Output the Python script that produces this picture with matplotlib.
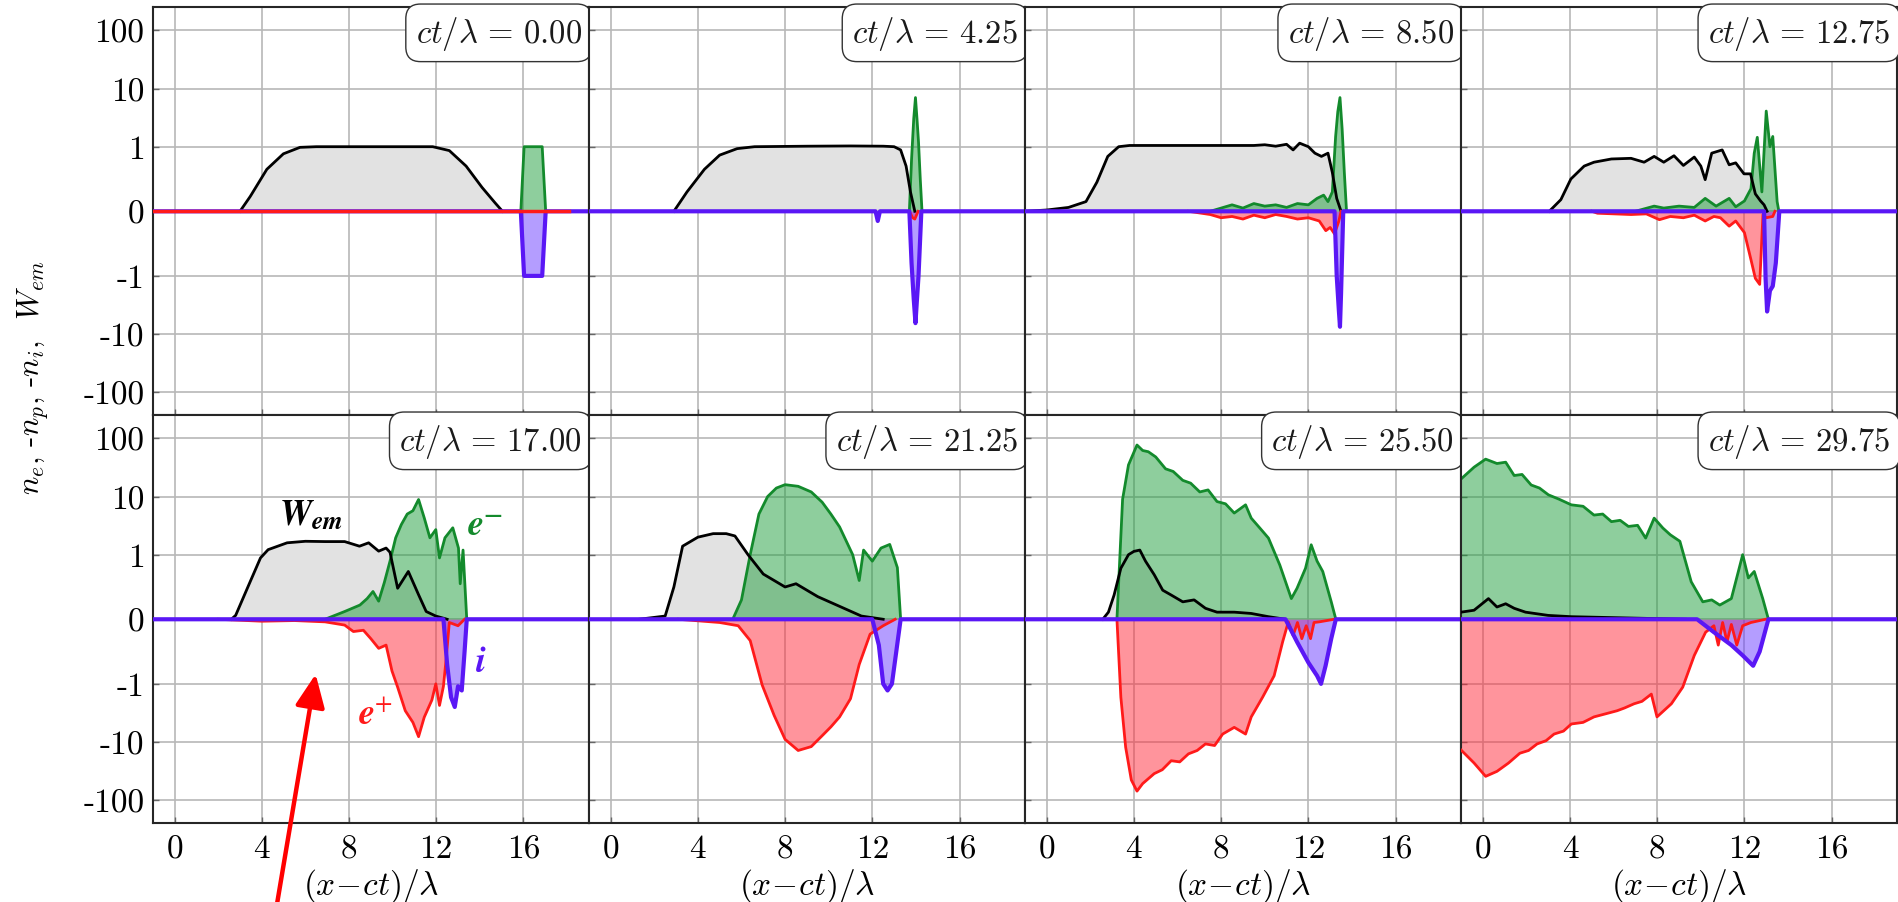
import numpy as np
import matplotlib
matplotlib.use('Agg')
import matplotlib.pyplot as plt

plt.rcParams['font.family'] = 'cmr10'
plt.rcParams['mathtext.fontset'] = 'cm'
plt.rcParams['axes.unicode_minus'] = False

# ----------------------------------- data ---------------------------------------------------------------
TIMES = ['0.00', '4.25', '8.50', '12.75', '17.00', '21.25', '25.50', '29.75']

# W_em (black)
W_X = [
    [3.0, 3.47, 4.23, 4.99, 5.75, 6.5, 11.84, 12.6, 13.37, 14.1, 14.7, 15.04],
    [2.9, 3.5, 4.3, 5.0, 5.8, 6.6, 9.0, 11.0, 12.5, 13.0, 13.3, 13.55, 13.75, 13.95],
    [-1, 0, 1.0, 1.8, 2.3, 2.8, 3.3, 3.8, 6.0, 9.5, 10.0, 10.5, 11.0, 11.3, 11.6, 12.0, 12.3, 12.6, 12.9, 13.1, 13.3, 13.5],
    [3.05, 3.58, 4.04, 4.65, 5.1, 5.9, 6.8, 7.4, 7.86, 8.3, 8.77, 9.2, 9.7, 10.0, 10.2, 10.5, 10.98, 11.3, 11.6, 11.98,
     12.28, 12.5, 12.74, 12.9, 13.04],
    [2.6, 2.8, 3.4, 3.94, 4.29, 5.16, 6.0, 6.9, 7.8, 8.48, 8.9, 9.36, 9.7, 9.88, 10.23, 10.72, 11.19, 11.54, 11.98, 12.5],
    [1.3, 2.5, 2.9, 3.3, 4.0, 4.7, 5.3, 5.7, 6.3, 7.0, 8.0, 8.5, 9.5, 10.5, 11.5, 12.5],
    [2.57, 2.83, 3.09, 3.4, 3.75, 4.0, 4.27, 4.53, 4.93, 5.32, 5.71, 6.24, 6.76, 7.28, 7.81, 8.6, 9.38, 10.17, 10.95],
    [-1, -0.4, 0.26, 0.65, 1.05, 1.44, 1.96, 3.0, 4.06, 6.7, 9.3],
]
W_Y = [
    [0, 0.23, 0.65, 0.89, 0.99, 1.0, 1.0, 0.94, 0.7, 0.37, 0.13, 0],
    [0, 0.3, 0.65, 0.87, 0.97, 1.0, 1.02, 1.03, 1.02, 1.0, 0.95, 0.7, 0.3, 0],
    [0, 0.02, 0.06, 0.15, 0.45, 0.85, 1.0, 1.05, 1.05, 1.05, 1.08, 1.02, 1.1, 0.95, 1.15, 1.0, 0.9, 0.85, 0.9, 0.6, 0.2, 0],
    [0, 0.18, 0.5, 0.7, 0.76, 0.81, 0.82, 0.76, 0.85, 0.76, 0.86, 0.71, 0.84, 0.7, 0.49, 0.9, 0.95, 0.72, 0.75, 0.58,
     0.58, 0.27, 0.16, 0.1, 0],
    [0, 0.06, 0.53, 0.95, 1.22, 1.6, 1.7, 1.68, 1.68, 1.4, 1.6, 1.15, 1.3, 1.1, 0.48, 0.74, 0.38, 0.12, 0.05, 0],
    [0, 0.05, 0.5, 1.4, 2.0, 2.3, 2.3, 2.1, 1.0, 0.7, 0.5, 0.55, 0.35, 0.2, 0.05, 0],
    [0, 0.11, 0.375, 0.79, 1.0, 1.14, 1.2, 0.9, 0.69, 0.45, 0.375, 0.27, 0.3, 0.17, 0.11, 0.11, 0.09, 0.04, 0],
    [0.11, 0.14, 0.32, 0.19, 0.24, 0.17, 0.11, 0.06, 0.04, 0.02, 0],
]

# n_e (green)
NE_X = [
    [15.88, 16.03, 16.86, 17.02],
    [13.7, 13.8, 13.9, 13.98, 14.05, 14.12, 14.2, 14.28],
    [7.5, 8.0, 8.5, 9.0, 9.5, 10.0, 10.5, 11.0, 11.5, 12.0, 12.4, 12.7, 12.9, 13.1, 13.25, 13.35, 13.45, 13.55, 13.65, 13.75],
    [7.0, 7.86, 8.3, 9.0, 9.7, 10.2, 10.7, 11.3, 11.6, 12.0, 12.3, 12.45, 12.59, 12.8, 13.0, 13.17, 13.3, 13.5, 13.58],
    [6.9, 7.8, 8.5, 8.83, 9.1, 9.36, 9.62, 9.88, 10.14, 10.4, 10.67, 10.93, 11.19, 11.45, 11.71, 11.98, 12.15, 12.4,
     12.76, 13.02, 13.1, 13.23, 13.4],
    [5.6, 6.0, 6.4, 6.8, 7.2, 7.6, 8.0, 8.6, 9.2, 9.7, 10.1, 10.5, 11.1, 11.4, 11.6, 12.0, 12.4, 12.8, 13.15, 13.3],
    [3.22, 3.48, 3.75, 4.14, 4.4, 4.66, 5.0, 5.45, 5.8, 6.24, 6.6, 7.02, 7.4, 7.81, 8.2, 8.6, 9.12, 9.38, 9.8, 10.17,
     10.69, 11.22, 11.48, 11.87, 12.13, 12.4, 12.66, 13.05, 13.26],
    [-1, -0.4, 0.13, 0.65, 1.05, 1.44, 1.8, 2.22, 2.6, 3.01, 3.5, 4.06, 4.6, 5.1, 5.5, 5.9, 6.3, 6.68, 7.1, 7.47, 7.86,
     8.26, 8.6, 9.04, 9.56, 10.09, 10.5, 10.87, 11.4, 11.92, 12.18, 12.45, 12.84, 13.1],
]
NE_Y = [
    [0, 1.0, 1.0, 0],
    [0, 0.8, 3.0, 7.0, 3.0, 1.2, 0.5, 0],
    [0, 0.05, 0.1, 0.05, 0.12, 0.08, 0.1, 0.06, 0.12, 0.1, 0.2, 0.25, 0.15, 0.3, 1.5, 4.0, 7.0, 2.0, 0.6, 0],
    [0, 0.08, 0.05, 0.08, 0.06, 0.2, 0.08, 0.2, 0.07, 0.16, 0.35, 0.9, 1.45, 0.3, 4.1, 1.0, 1.5, 0.15, 0],
    [0, 0.12, 0.22, 0.32, 0.43, 0.28, 0.57, 0.9, 1.95, 3.3, 5.0, 5.7, 8.9, 4.3, 1.95, 2.7, 0.95, 1.95, 2.9, 1.3, 0.55, 1.2, 0],
    [0, 0.3, 1.0, 5.0, 10, 14, 16, 15, 12, 8, 5, 3, 1, 0.6, 1.2, 0.9, 1.3, 1.5, 0.8, 0],
    [0, 9, 35, 77, 62, 59, 48, 30, 27, 19, 17, 12, 13, 8.2, 7.5, 5.2, 7.2, 4.25, 2.8, 1.93, 0.84, 0.32, 0.48, 0.79,
     1.48, 0.9, 0.74, 0.27, 0],
    [20, 32, 44, 37, 39, 23, 24, 15.8, 14, 10.7, 9.0, 7.2, 6.8, 4.8, 5.0, 3.7, 3.9, 3.06, 3.2, 1.93, 4.25, 2.87, 2.2,
     1.7, 0.58, 0.27, 0.3, 0.22, 0.32, 1.0, 0.64, 0.74, 0.32, 0],
]

# -n_p (red)
NP_X = [
    [-1, 18.1],
    [13.7, 13.85, 13.95, 14.1],
    [6.5, 7.5, 8.0, 8.5, 9.0, 9.5, 10.0, 10.5, 11.0, 11.5, 12.0, 12.5, 12.8, 13.0, 13.2, 13.4, 13.5],
    [5.0, 5.26, 6.8, 7.5, 8.1, 8.6, 9.2, 9.7, 10.2, 10.6, 10.9, 11.3, 11.6, 12.0, 12.3, 12.5, 12.7, 12.85, 13.0, 13.3, 13.4],
    [2.0, 4.0, 5.5, 6.9, 7.8, 8.2, 8.66, 9.0, 9.36, 9.7, 9.97, 10.23, 10.58, 10.93, 11.19, 11.45, 11.8, 11.98, 12.15,
     12.33, 12.46, 12.6, 13.0, 13.3],
    [3.1, 5.0, 5.85, 6.4, 6.95, 7.5, 8.0, 8.6, 9.2, 9.7, 10.1, 10.5, 11.0, 11.4, 11.9, 12.5, 13.05],
    [3.22, 3.4, 3.62, 3.88, 4.14, 4.4, 4.93, 5.3, 5.71, 6.1, 6.5, 6.9, 7.28, 7.7, 8.07, 8.6, 9.12, 9.38, 9.9, 10.43,
     10.82, 11.08, 11.3, 11.5, 11.7, 11.9, 12.1, 12.26, 12.5, 13.18],
    [-1, -0.4, 0.13, 0.65, 1.18, 1.7, 2.1, 2.49, 2.9, 3.27, 3.7, 4.06, 4.6, 5.1, 5.6, 6.16, 6.5, 6.94, 7.3, 7.73, 7.99,
     8.65, 9.17, 9.7, 10.22, 10.6, 10.8, 11.0, 11.2, 11.4, 11.65, 11.92, 12.3, 12.97],
]
NP_Y = [
    [0, 0],
    [0, -0.1, -0.12, 0],
    [0, -0.05, -0.1, -0.08, -0.12, -0.06, -0.1, -0.05, -0.08, -0.12, -0.1, -0.15, -0.3, -0.25, -0.35, -0.15, 0],
    [0, -0.03, -0.05, -0.04, -0.13, -0.08, -0.1, -0.06, -0.15, -0.08, -0.1, -0.23, -0.15, -0.33, -0.75, -1.1, -1.4,
     -0.05, -0.1, -0.08, 0],
    [0, -0.03, -0.02, -0.04, -0.09, -0.19, -0.17, -0.3, -0.45, -0.4, -0.8, -1.14, -2.9, -4.6, -8.1, -3.75, -1.9, -1.0,
     -2.35, -1.1, -0.6, -0.05, -0.1, 0],
    [0, -0.05, -0.1, -0.33, -1.05, -3.5, -9, -14, -12, -7.8, -5.5, -3.7, -1.8, -0.7, -0.23, -0.1, 0],
    [0, -1.7, -12.3, -45, -70, -52, -35, -30, -21, -22, -16, -14, -10.8, -11.5, -7.3, -5.6, -7.3, -3.7, -1.7, -0.875,
     -0.35, -0.04, -0.25, -0.05, -0.3, -0.1, -0.3, -0.05, -0.04, 0],
    [-13.7, -23, -39, -32, -23, -15.6, -14, -10.8, -9.5, -7.3, -6.5, -4.9, -4.6, -3.7, -3.3, -2.9, -2.6, -2.2, -2.0,
     -1.5, -3.7, -2.2, -1.14, -0.56, -0.2, -0.1, -0.4, -0.05, -0.35, -0.08, -0.4, -0.1, -0.05, 0],
]

# -n_i (blue)
NI_X = [
    [-1, 15.88, 16.03, 16.86, 17.02, 19],
    [-1, 12.15, 12.25, 12.35, 13.7, 13.8, 13.9, 13.98, 14.05, 14.12, 14.25, 19],
    [-1, 13.2, 13.3, 13.4, 13.45, 13.5, 13.6, 19],
    [-1, 12.9, 12.97, 13.04, 13.17, 13.3, 13.44, 13.6, 19],
    [-1, 12.33, 12.5, 12.68, 12.85, 13.0, 13.17, 13.3, 13.4, 19],
    [-1, 12.0, 12.3, 12.5, 12.7, 12.9, 13.1, 13.3, 19],
    [-1, 10.95, 11.48, 12.0, 12.4, 12.58, 12.79, 13.05, 13.26, 19],
    [-1, 9.83, 10.6, 11.4, 11.92, 12.4, 12.7, 13.1, 19],
]
NI_Y = [
    [0, 0, -1, -1, 0, 0],
    [0, 0, -0.15, 0, 0, -0.8, -2.5, -6.5, -2.5, -1.0, 0, 0],
    [0, 0, -1.0, -4.0, -7.5, -2.0, 0, 0],
    [0, 0, -1.1, -4.1, -1.8, -1.5, -0.8, 0, 0],
    [0, 0, -0.7, -1.7, -2.5, -1.1, -1.3, -0.5, 0, 0],
    [0, 0, -0.4, -1.0, -1.3, -1.0, -0.5, 0, 0],
    [0, 0, -0.35, -0.67, -0.875, -1.0, -0.72, -0.3, 0, 0],
    [0, 0, -0.2, -0.4, -0.56, -0.72, -0.5, 0, 0],
]

Y_TICKS = [-100, -10, -1, 0, 1, 10, 100]
Y_TICKLABELS = ['-100', '-10', '-1', '0', '1', '10', '100']
X_TICKS = [0, 4, 8, 12, 16]

# ----------------------------------- plot ---------------------------------------------------------------
fig, axes = plt.subplots(2, 4, figsize=(18.98, 9.03), dpi=100, sharex=True, sharey=True)
fig.subplots_adjust(left=0.0805, right=0.9995, top=0.9908, bottom=0.0872, wspace=0, hspace=0)

c_w, f_w = 'black', '#e2e2e2'
c_e = '#138a2c'
c_p = '#ff1a1a'
c_i = '#5a17f5'

for k, ax in enumerate(axes.flat):
    ax.set_yscale('symlog', linthresh=1, linscale=1)
    ax.set_xlim(-1, 19)
    ax.set_ylim(-250, 250)

    ax.fill_between(W_X[k], 0, W_Y[k], color=f_w, lw=0, zorder=1.5)
    ax.fill_between(NE_X[k], 0, NE_Y[k], color='#1f9e3c', alpha=0.5, lw=0, zorder=1.6)
    ax.fill_between(NP_X[k], 0, NP_Y[k], color='#ff2a3a', alpha=0.5, lw=0, zorder=1.7)
    ax.fill_between(NI_X[k], 0, NI_Y[k], color='#6a3cff', alpha=0.5, lw=0, zorder=1.8)

    ax.plot(NE_X[k], NE_Y[k], color=c_e, lw=2.0, zorder=2.5)
    ax.plot(W_X[k], W_Y[k], color=c_w, lw=2.0, zorder=2.6)
    ax.plot(NI_X[k], NI_Y[k], color=c_i, lw=3.0, zorder=2.8)
    ax.plot(NP_X[k], NP_Y[k], color=c_p, lw=2.5 if k == 0 else 2.0, zorder=2.9 if k == 0 else 2.7)

    ax.text(0.984, 0.984, r'$ct/\lambda\,=\,%s$' % TIMES[k], transform=ax.transAxes, ha='right', va='top',
            fontsize=23.5, color='0.1', zorder=5,
            bbox=dict(boxstyle='round,pad=0.3,rounding_size=0.45', fc='white', ec='0.2', lw=1.0))

    ax.set_yticks(Y_TICKS)
    ax.set_yticklabels(Y_TICKLABELS)
    ax.set_xticks(X_TICKS)
    ax.grid(True, color='0.72', lw=1.2)
    ax.set_axisbelow(True)
    ax.tick_params(direction='in', length=4, width=1, color='0.4', labelsize=24, pad=6)
    ax.tick_params(axis='x', pad=8)
    for s in ax.spines.values():
        s.set_linewidth(1.5)
        s.set_color('0.15')

for ax in axes[1]:
    ax.set_xlabel(r'$(x\!-\!ct)/\lambda$', fontsize=24, labelpad=2)

fig.text(33 / 1898, 1 - 378 / 903, r'$n_e$, -$n_p$, -$n_i$,  $W_{em}$', rotation=90, ha='center', va='center',
         fontsize=22)

# подписи кривых на панели ct/lambda = 17
a5 = axes[1, 0]
a5.text(4.8, 3.3, r'$\mathbfit{W}_{\mathbfit{em}}$', color='black', fontsize=26, math_fontfamily='stix', zorder=6)
a5.text(13.4, 2.2, r'$\mathbfit{e}^{\mathbf{-}}$', color=c_e, fontsize=26, math_fontfamily='stix', zorder=6)
a5.text(13.8, -0.8, r'$\mathbfit{i}$', color=c_i, fontsize=26, math_fontfamily='stix', zorder=6)
a5.text(8.4, -4.9, r'$\mathbfit{e}^{+}$', color=c_p, fontsize=26, math_fontfamily='stix', zorder=6)

# красная стрелка
a5.annotate('', xy=(6.47, -0.85), xycoords='data', xytext=(276, -8), textcoords='figure pixels',
            arrowprops=dict(arrowstyle='-|>,head_length=1.0,head_width=0.45', color='#ff0000', lw=3.2,
                            mutation_scale=20, shrinkA=0, shrinkB=0),
            annotation_clip=False, zorder=10)

fig.savefig('out.png', dpi=100)
